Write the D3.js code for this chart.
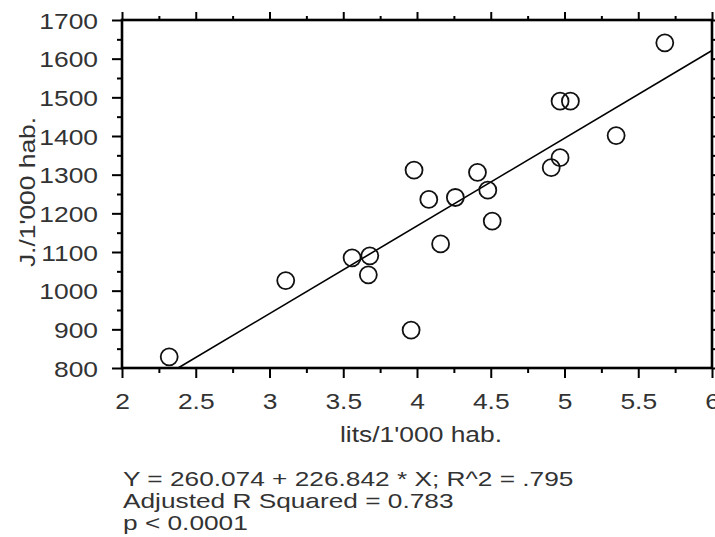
<!DOCTYPE html>
<html>
<head>
<meta charset="utf-8">
<script src="https://cdn.jsdelivr.net/npm/d3@7"></script>
<style>
  body { margin: 0; background: #fff; }
  svg text { font-family: "Liberation Sans", Arial, sans-serif; fill: #333; }
</style>
</head>
<body>
<svg id="chart" width="715" height="537"></svg>
<script>
// data
const litres = [2.32, 3.11, 3.56, 3.68, 3.67, 3.96, 3.98, 4.08, 4.16, 4.26, 4.41, 4.48, 4.51, 4.91, 4.97, 4.97, 5.04, 5.35, 5.68];
const journees = [829, 1026, 1085, 1090, 1041, 898, 1312, 1236, 1121, 1241, 1306, 1260, 1180, 1318, 1344, 1490, 1490, 1401, 1641];
const fitIntercept = 260.074;
const fitSlope = 226.842;
const xTicks = [2, 2.5, 3, 3.5, 4, 4.5, 5, 5.5, 6];
const xMinorTicks = [2.25, 2.75, 3.25, 3.75, 4.25, 4.75, 5.25, 5.75];
const yTicks = [800, 900, 1000, 1100, 1200, 1300, 1400, 1500, 1600, 1700];
const yMinorTicks = [850, 950, 1050, 1150, 1250, 1350, 1450, 1550, 1650];
const xTitle = "lits/1'000 hab.";
const yTitle = "J./1'000 hab.";
const notes = ["Y = 260.074 + 226.842 * X; R^2 = .795", "Adjusted R Squared = 0.783", "p < 0.0001"];

const CONFIG = {
  left: 122, right: 712, top: 20, bottom: 368,
  fontSize: 22, stretch: 1.2, radius: 8.5
};

const svg = d3.select("#chart");
const x = d3.scaleLinear().domain([2, 6]).range([CONFIG.left, CONFIG.right]);
const y = d3.scaleLinear().domain([800, 1700]).range([CONFIG.bottom, CONFIG.top]);

function styleAxis(g) {
  g.select(".domain").remove();
  g.selectAll(".tick line").attr("stroke", "#000").attr("stroke-width", 2);
  g.selectAll(".tick text").style("font-size", CONFIG.fontSize + "px");
}

// minor ticks first, then major
svg.append("g").attr("transform", `translate(0,${CONFIG.bottom})`)
  .call(d3.axisBottom(x).tickValues(xMinorTicks).tickSize(5).tickFormat("")).call(styleAxis);
svg.append("g").attr("transform", `translate(0,${CONFIG.bottom})`)
  .call(d3.axisBottom(x).tickValues(xTicks).tickSize(10).tickFormat(d3.format("")))
  .call(styleAxis)
  .call(g => g.selectAll(".tick text").attr("y", 41).attr("dy", 0)
    .attr("transform", `scale(${CONFIG.stretch},1)`));

svg.append("g").attr("transform", `translate(0,${CONFIG.top})`)
  .call(d3.axisTop(x).tickValues(xMinorTicks).tickSize(4).tickFormat("")).call(styleAxis);
svg.append("g").attr("transform", `translate(0,${CONFIG.top})`)
  .call(d3.axisTop(x).tickValues(xTicks).tickSize(8).tickFormat("")).call(styleAxis);

svg.append("g").attr("transform", `translate(${CONFIG.left},0)`)
  .call(d3.axisLeft(y).tickValues(yMinorTicks).tickSize(5).tickFormat("")).call(styleAxis);
svg.append("g").attr("transform", `translate(${CONFIG.left},0)`)
  .call(d3.axisLeft(y).tickValues(yTicks).tickSize(10).tickFormat(d3.format("")))
  .call(styleAxis)
  .call(g => g.selectAll(".tick text").attr("x", -20).attr("dy", 8)
    .attr("transform", `scale(${CONFIG.stretch},1)`));

svg.append("g").attr("transform", `translate(${CONFIG.right},0)`)
  .call(d3.axisRight(y).tickValues(yMinorTicks).tickSize(4).tickFormat("")).call(styleAxis);
svg.append("g").attr("transform", `translate(${CONFIG.right},0)`)
  .call(d3.axisRight(y).tickValues(yTicks).tickSize(8).tickFormat("")).call(styleAxis);

// frame
svg.append("rect")
  .attr("x", CONFIG.left).attr("y", CONFIG.top)
  .attr("width", CONFIG.right - CONFIG.left).attr("height", CONFIG.bottom - CONFIG.top)
  .attr("fill", "none").attr("stroke", "#000").attr("stroke-width", 2.6);

// regression line, from where it meets the bottom axis to the right edge
const fit = v => fitIntercept + fitSlope * v;
const xStart = (800 - fitIntercept) / fitSlope;
svg.append("line")
  .attr("x1", x(xStart)).attr("y1", y(fit(xStart)))
  .attr("x2", x(6)).attr("y2", y(fit(6)))
  .attr("stroke", "#000").attr("stroke-width", 1.6);

svg.append("g").selectAll("circle")
  .data(litres.map((v, i) => [v, journees[i]]))
  .join("circle")
  .attr("cx", d => x(d[0])).attr("cy", d => y(d[1]))
  .attr("r", CONFIG.radius)
  .attr("fill", "none").attr("stroke", "#111").attr("stroke-width", 1.8);

// titles
svg.append("text")
  .attr("transform", `translate(421,442) scale(${CONFIG.stretch},1)`)
  .attr("text-anchor", "middle").style("font-size", CONFIG.fontSize + "px")
  .text(xTitle);

svg.append("text")
  .attr("transform", `translate(35,192) rotate(-90) scale(${CONFIG.stretch},1)`)
  .attr("text-anchor", "middle").style("font-size", CONFIG.fontSize + "px")
  .text(yTitle);

// fit statistics under the axis title
const noteY = [486, 508, 530];
svg.append("g").selectAll("text")
  .data(notes)
  .join("text")
  .attr("transform", (d, i) => `translate(123,${noteY[i]}) scale(1.25,1)`)
  .style("font-size", "21px")
  .text(d => d);
</script>
</body>
</html>
